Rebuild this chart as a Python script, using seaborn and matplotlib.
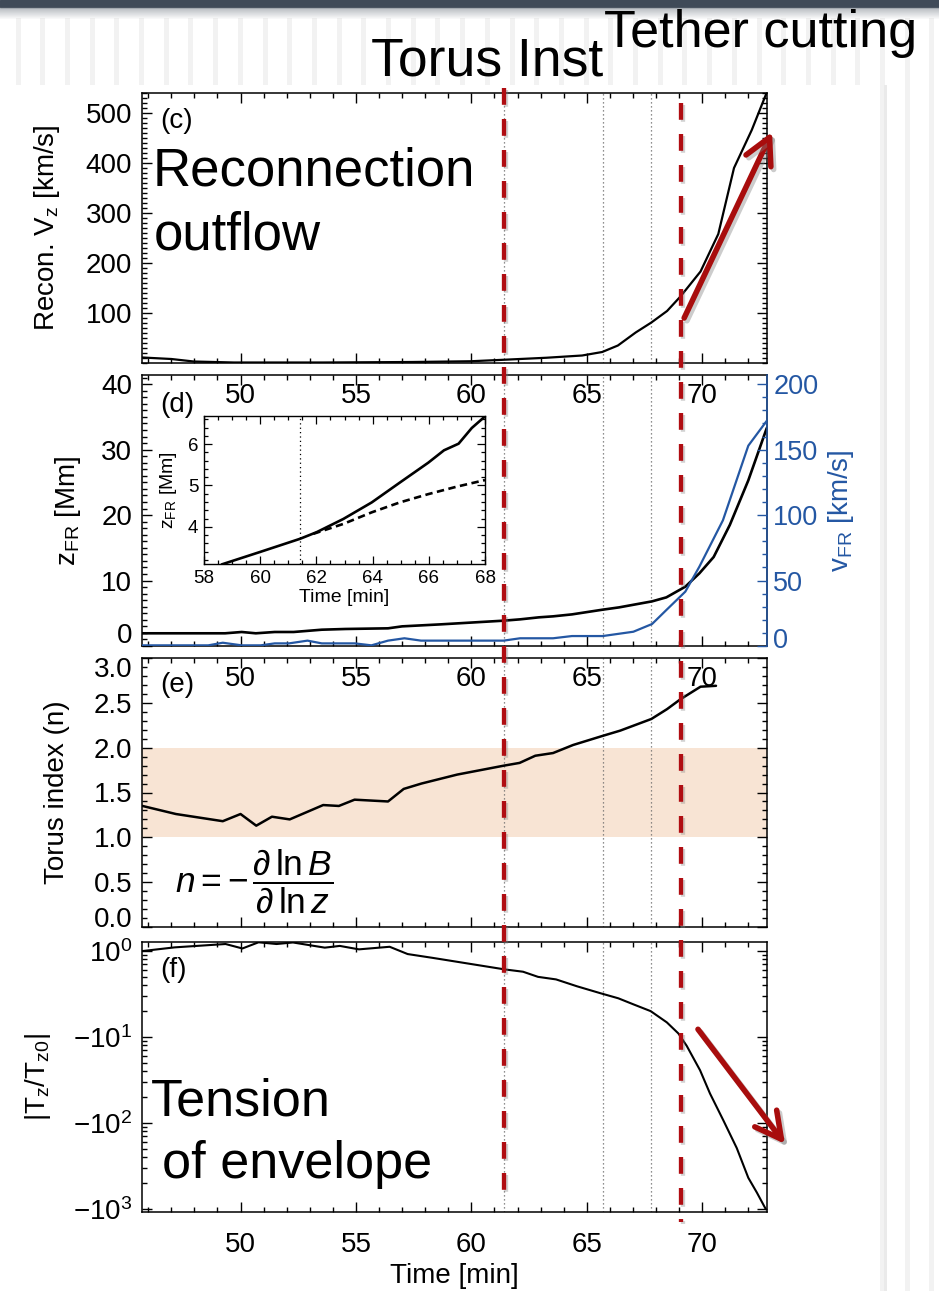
import numpy as np
import matplotlib
matplotlib.use("Agg")
import matplotlib.pyplot as plt
import seaborn as sns
import matplotlib.transforms as mtransforms
import matplotlib.patheffects as pe
from matplotlib.lines import Line2D
from matplotlib.patches import Rectangle
from matplotlib.ticker import FixedLocator, MultipleLocator, LogLocator, NullFormatter, FixedFormatter

# ---------------- data ----------------
x_ticks = [50, 55, 60, 65, 70]
x_limits = (45.73, 72.81)

# (c) reconnection outflow
time_c = [45.75, 47.0, 47.97, 49.71, 53.58, 57.45, 59.97, 61.42, 63.25, 64.8, 65.67,
          66.35, 67.12, 67.8, 68.48, 69.06, 69.93, 70.7, 71.38, 72.15, 72.79]
recon_vz = [11, 8, 3, 1, 1, 2, 3.5, 6.5, 10.5, 15, 22, 35, 61, 81, 104, 133, 183,
            258, 390, 466, 540]

# (d) flux-rope height and velocity
time_z = [45.75, 49.33, 50.05, 50.66, 51.48, 52.3, 53.52, 54.55, 56.39, 57.0, 58.64,
          61.4, 62.11, 62.93, 63.54, 64.36, 65.69, 66.4, 67.83, 68.45, 69.27, 69.88,
          70.5, 71.2, 72.0, 72.8]
z_fr = [1.94, 1.94, 2.14, 1.94, 2.14, 2.14, 2.49, 2.6, 2.7, 3.0, 3.3, 3.87, 4.07,
        4.38, 4.53, 4.83, 5.55, 5.9, 6.82, 7.43, 9.06, 11.1, 13.6, 18.5, 25.3, 33.3]
time_v = [45.75, 48.6, 49.23, 50.05, 50.87, 51.48, 52.1, 52.9, 53.52, 54.95, 55.67,
          56.39, 57.1, 57.82, 61.4, 62.11, 63.54, 64.36, 65.69, 67.02, 67.83, 68.45,
          69.27, 69.88, 70.9, 72.0, 72.8]
v_fr = [0.5, 0.5, 2.5, 0.5, 0.5, 2.0, 2.0, 4.1, 2.0, 2.0, 0.5, 4.1, 5.9, 4.1, 4.1,
        5.9, 5.9, 7.6, 7.6, 10.9, 16.8, 27.5, 41.5, 60.6, 96, 153, 172]
z_ticks = [0, 10, 20, 30, 40]
v_ticks = [0, 50, 100, 150, 200]

# inset
inset_time = [58.63, 59.99, 61.42, 62.01, 62.96, 63.97, 64.97, 65.98, 66.54, 67.06, 67.53, 68.0]
inset_z = [3.09, 3.39, 3.71, 3.87, 4.19, 4.59, 5.07, 5.55, 5.85, 6.01, 6.39, 6.67]
fit_time = [61.89, 62.96, 63.97, 64.97, 65.98, 66.99, 68.0]
fit_z = [3.83, 4.07, 4.35, 4.59, 4.79, 4.97, 5.13]
inset_x_ticks = [58, 60, 62, 64, 66, 68]
inset_y_ticks = [4, 5, 6]
inset_marker_time = 61.4

# (e) torus index
time_e = [45.75, 47.2, 49.23, 50.0, 50.68, 51.36, 52.13, 53.58, 54.26, 54.94, 56.39,
          57.07, 57.84, 59.39, 61.42, 62.09, 62.77, 63.54, 64.41, 65.67, 66.45, 67.8,
          68.48, 69.06, 69.93, 70.6]
torus_n = [1.35, 1.26, 1.18, 1.26, 1.13, 1.23, 1.20, 1.36, 1.35, 1.42, 1.40, 1.54,
           1.60, 1.70, 1.80, 1.83, 1.91, 1.94, 2.03, 2.13, 2.19, 2.32, 2.43, 2.54,
           2.68, 2.69]
torus_band = (1.0, 2.0)
n_ticks = [0.0, 0.5, 1.0, 1.5, 2.0, 2.5, 3.0]

# (f) tension of envelope (log-scaled axis, custom decade labels)
time_f = [45.75, 47.14, 49.35, 50.08, 50.78, 51.56, 52.27, 53.65, 54.3, 55.13, 56.46,
          57.24, 58.34, 61.46, 62.24, 62.89, 63.67, 64.58, 65.58, 66.37, 67.02, 67.77,
          68.47, 68.97, 69.33, 69.91, 70.34, 70.92, 71.5, 72.0, 72.37, 72.76]
tension = [1000, 1104, 1208, 1072, 1265, 1208, 1259, 1096, 1148, 1047, 1122, 923, 832,
           611, 575, 501, 468, 389, 324, 282, 240, 200, 148, 110, 79, 41, 22, 10.7,
           5.1, 2.3, 1.55, 0.99]
tension_ticks = [1, 10, 100, 1000]
tension_ticklabels = [r'$-10^3$', r'$-10^2$', r'$-10^1$', r'$10^0$']

event_times = [61.4, 69.1]          # red dashed: torus instability / tether cutting
dotted_times = [61.4, 65.7, 67.8]    # thin dotted markers

# ---------------- style ----------------
sns.set_style("ticks")
plt.rcParams['font.family'] = ['Liberation Sans', 'DejaVu Sans']
plt.rcParams['mathtext.fontset'] = 'custom'
plt.rcParams['mathtext.rm'] = 'Liberation Sans'
plt.rcParams['mathtext.it'] = 'Liberation Sans:italic'
plt.rcParams['mathtext.bf'] = 'Liberation Sans:bold'
for key in ('text.color', 'axes.labelcolor', 'xtick.color', 'ytick.color', 'axes.edgecolor'):
    plt.rcParams[key] = 'black'

RED = '#b00d12'
BLUE = '#2457a3'
BAND = '#f8e4d4'
DOT = '#6a6a6a'

W, H = 939, 1291
fig = plt.figure(figsize=(W / 100, H / 100), dpi=100)
fig.patch.set_facecolor('white')


def fx(p):
    return p / W


def fy(p):
    return 1 - p / H


def rect(l, t, r, b):
    return [fx(l), fy(b), (r - l) / W, (b - t) / H]


# ---- background decoration (slide frame) ----
fig.add_artist(Rectangle((0, fy(7)), 1, 7 / H, transform=fig.transFigure,
                         color='#3f4a58', zorder=-4))
for i in range(12):
    fig.add_artist(Rectangle((0, fy(8 + i)), 1, 1 / H, transform=fig.transFigure,
                             color='#5a6470', alpha=0.45 * (1 - i / 12), lw=0, zorder=-4))
for k in range(38):
    cx = 18 + 24.7 * k
    bottom = 1291 if cx > 878 else 85
    fig.add_artist(Rectangle((fx(cx - 2.5), fy(bottom)), 5 / W, (bottom - 18) / H,
                             transform=fig.transFigure, color='#f2f2f2', lw=0, zorder=-5))
fig.add_artist(Rectangle((fx(884), 0), 3 / W, fy(85), transform=fig.transFigure,
                         color='#eaeaea', lw=0, zorder=-5))

ax_c = fig.add_axes(rect(142, 93, 767, 363))
ax_d = fig.add_axes(rect(142, 375, 767, 646))
ax_e = fig.add_axes(rect(142, 658, 767, 927))
ax_f = fig.add_axes(rect(142, 942, 767, 1212))
for a in (ax_d, ax_e, ax_f):
    a.patch.set_visible(False)


def style(ax, right=True):
    ax.set_xlim(x_limits)
    ax.xaxis.set_major_locator(FixedLocator(x_ticks))
    ax.xaxis.set_minor_locator(MultipleLocator(1))
    ax.tick_params(which='both', direction='in', top=True, bottom=True, left=True,
                   right=right, colors='black', width=1.0, labelsize=20)
    ax.tick_params(which='major', length=7.5)
    ax.tick_params(which='minor', length=3.8)
    ax.tick_params(axis='x', pad=14.4)
    ax.tick_params(axis='y', pad=7)
    for s in ax.spines.values():
        s.set_visible(True)
        s.set_color('black')
        s.set_linewidth(1.1)


# ---- (c) ----
sns.lineplot(x=time_c, y=recon_vz, ax=ax_c, color='black', linewidth=1.6)
ax_c.set_ylim(0, 540)
style(ax_c)
ax_c.yaxis.set_major_locator(FixedLocator([100, 200, 300, 400, 500]))
ax_c.yaxis.set_minor_locator(MultipleLocator(10))
ax_c.set_ylabel(r'Recon. V$_{\rm z}$ [km/s]', fontsize=20)
ax_c.yaxis.set_label_coords(-0.128, 0.5)
ax_c.text(0.029, 0.896, '(c)', transform=ax_c.transAxes, fontsize=20, va='center', ha='left')

# ---- (d) ----
sns.lineplot(x=time_z, y=z_fr, ax=ax_d, color='black', linewidth=1.9)
ax_d.set_ylim(0, 41.4)
style(ax_d, right=False)
ax_d.yaxis.set_major_locator(FixedLocator(z_ticks))
ax_d.yaxis.set_minor_locator(MultipleLocator(1))
ax_d.set_ylabel(r'z$_{\rm FR}$ [Mm]', fontsize=20)
ax_d.yaxis.set_label_coords(-0.094, 0.5)
ax_d.text(0.029, 0.889, '(d)', transform=ax_d.transAxes, fontsize=20, va='center', ha='left')

ax_d2 = ax_d.twinx()
ax_d2.set_position(ax_d.get_position())
sns.lineplot(x=time_v, y=v_fr, ax=ax_d2, color=BLUE, linewidth=1.6)
ax_d2.set_xlim(x_limits)
ax_d2.set_ylim(0, 207)
ax_d2.yaxis.set_major_locator(FixedLocator(v_ticks))
ax_d2.yaxis.set_minor_locator(MultipleLocator(10))
ax_d2.tick_params(axis='y', which='both', direction='in', colors=BLUE, width=1.0,
                  labelsize=19.5, pad=4.5, left=False, right=True)
ax_d2.tick_params(axis='y', which='major', length=7.5)
ax_d2.tick_params(axis='y', which='minor', length=3.8)
for side in ('left', 'top', 'bottom'):
    ax_d2.spines[side].set_visible(False)
ax_d2.spines['right'].set_color(BLUE)
ax_d2.spines['right'].set_linewidth(1.1)
ax_d2.set_ylabel(r'v$_{\rm FR}$ [km/s]', fontsize=20, color=BLUE)
ax_d2.yaxis.set_label_coords(1.094, 0.5)

# inset
ax_in = fig.add_axes(rect(204, 416, 485, 564))
ax_in.patch.set_facecolor('white')
sns.lineplot(x=inset_time, y=inset_z, ax=ax_in, color='black', linewidth=1.9)
sns.lineplot(x=fit_time, y=fit_z, ax=ax_in, color='black', linewidth=1.9,
             linestyle=(0, (2.8, 1.7)))
ax_in.axvline(inset_marker_time, color='black', lw=0.9, ls=(0, (1, 2.5)))
ax_in.set_xlim(58, 68)
ax_in.set_ylim(3.1, 6.68)
ax_in.xaxis.set_major_locator(FixedLocator(inset_x_ticks))
ax_in.xaxis.set_minor_locator(MultipleLocator(0.5))
ax_in.yaxis.set_major_locator(FixedLocator(inset_y_ticks))
ax_in.yaxis.set_minor_locator(MultipleLocator(0.2))
ax_in.tick_params(which='both', direction='in', top=True, right=True, colors='black',
                  width=0.9, labelsize=13.5, pad=4)
ax_in.tick_params(which='major', length=5.5)
ax_in.tick_params(which='minor', length=2.8)
for s in ax_in.spines.values():
    s.set_visible(True)
    s.set_color('black')
    s.set_linewidth(1.0)
ax_in.set_xlabel('Time [min]', fontsize=14)
ax_in.xaxis.labelpad = 2
ax_in.set_ylabel(r'z$_{\rm FR}$ [Mm]', fontsize=14)
ax_in.yaxis.set_label_coords(-0.088, 0.5)

# ---- (e) ----
ax_e.axhspan(*torus_band, color=BAND, lw=0, zorder=0)
sns.lineplot(x=time_e, y=torus_n, ax=ax_e, color='black', linewidth=1.8)
ax_e.set_ylim(0, 3)
style(ax_e)
ax_e.tick_params(axis='x', labelbottom=False)
ax_e.yaxis.set_major_locator(FixedLocator(n_ticks))
ax_e.yaxis.set_minor_locator(MultipleLocator(0.1))
ax_e.yaxis.set_major_formatter(FixedFormatter([f'{v:.1f}' for v in n_ticks]))
ax_e.set_ylabel('Torus index (n)', fontsize=20)
ax_e.yaxis.set_label_coords(-0.115, 0.5)
ax_e.text(0.029, 0.90, '(e)', transform=ax_e.transAxes, fontsize=20, va='center', ha='left')
ax_e.text(fx(175), fy(881),
          r'$n=-\,\dfrac{\partial\,\mathrm{ln}\,B}{\partial\,\mathrm{ln}\,z}$',
          transform=fig.transFigure, fontsize=25.5, ha='left', va='center')

# ---- (f) ----
sns.lineplot(x=time_f, y=tension, ax=ax_f, color='black', linewidth=1.5)
ax_f.set_yscale('log')
ax_f.set_ylim(0.92, 1275)
style(ax_f)
ax_f.yaxis.set_major_locator(FixedLocator(tension_ticks))
ax_f.yaxis.set_major_formatter(FixedFormatter(tension_ticklabels))
ax_f.yaxis.set_minor_locator(LogLocator(base=10, subs=np.arange(2, 10)))
ax_f.yaxis.set_minor_formatter(NullFormatter())
ax_f.set_ylabel(r'|T$_{\rm z}$/T$_{\rm z0}$|', fontsize=20)
ax_f.yaxis.set_label_coords(-0.143, 0.5)
ax_f.set_xlabel('Time [min]', fontsize=20)
ax_f.xaxis.set_label_coords(0.5, -0.19)
ax_f.text(0.029, 0.896, '(f)', transform=ax_f.transAxes, fontsize=20, va='center', ha='left')

# dotted markers in each panel
for a in (ax_c, ax_d, ax_e, ax_f):
    for t in dotted_times:
        a.axvline(t, color=DOT, lw=0.9, ls=(0, (1, 2.2)), zorder=1)

# red dashed event lines spanning all panels
shadow = [pe.SimpleLineShadow(offset=(1.5, -1.5), shadow_color='gray', alpha=0.35), pe.Normal()]
blend = mtransforms.blended_transform_factory(ax_c.transData, fig.transFigure)
for t, (top, bot) in zip(event_times, [(88, 1190), (103, 1222)]):
    fig.add_artist(Line2D([t, t], [fy(top), fy(bot)], transform=blend, color=RED, lw=3.1,
                          ls=(0, (3.9, 3.3)), solid_capstyle='butt', dash_capstyle='butt',
                          path_effects=shadow, zorder=5))

# red arrows
arrow_kw = dict(arrowstyle='->,head_length=0.85,head_width=0.45', color='#a80d0d', lw=4,
                mutation_scale=22, shrinkA=0, shrinkB=0, clip_on=False,
                path_effects=[pe.SimpleLineShadow(offset=(2, -2), shadow_color='gray', alpha=0.4),
                              pe.Normal()])
ax_c.annotate('', xy=(73.03, 462), xytext=(69.22, 90), xycoords='data', textcoords='data',
              arrowprops=arrow_kw, annotation_clip=False, zorder=6)
ax_f.annotate('', xy=(73.59, 5.7), xytext=(69.82, 123), xycoords='data', textcoords='data',
              arrowprops=arrow_kw, annotation_clip=False, zorder=6)

# big annotation texts
fig.text(fx(153), fy(185), 'Reconnection', fontsize=38, ha='left', va='baseline')
fig.text(fx(154), fy(250), 'outflow', fontsize=38, ha='left', va='baseline')
fig.text(fx(151), fy(1115), 'Tension', fontsize=37.5, ha='left', va='baseline')
fig.text(fx(162), fy(1178), 'of envelope', fontsize=37.5, ha='left', va='baseline')
fig.text(fx(487), fy(75), 'Torus Inst', fontsize=38.5, ha='center', va='baseline')
fig.text(fx(761), fy(47), 'Tether cutting', fontsize=37.5, ha='center', va='baseline')

# nudge extreme tick labels inward like the original
fig.canvas.draw()


def nudge(axis, value, dy_px, which=1):
    for tick, loc in zip(axis.get_major_ticks(), axis.get_majorticklocs()):
        if abs(loc - value) < 1e-9:
            lab = tick.label1 if which == 1 else tick.label2
            lab.set_transform(lab.get_transform() +
                              mtransforms.ScaledTranslation(0, dy_px / 100, fig.dpi_scale_trans))


nudge(ax_d.yaxis, 0, 13)
nudge(ax_d2.yaxis, 0, 8, which=2)
nudge(ax_e.yaxis, 3.0, -9)
nudge(ax_e.yaxis, 0.0, 10)

fig.savefig('out.png', dpi=100)
